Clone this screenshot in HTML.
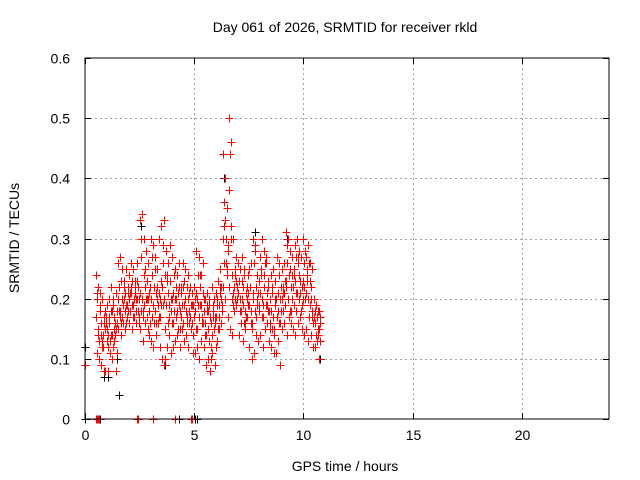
<!DOCTYPE html>
<html><head><meta charset="utf-8"><style>
body{margin:0;background:#fff}
svg{display:block;font-family:"Liberation Sans",sans-serif}
</style></head><body>
<svg id="chart" width="640" height="480" viewBox="0 0 640 480" xmlns="http://www.w3.org/2000/svg">
<rect width="640" height="480" fill="#fff"/>
<text x="345" y="32" font-size="14" text-anchor="middle" fill="#000">Day 061 of 2026, SRMTID for receiver rkld</text>
<text x="345" y="471" font-size="14" text-anchor="middle" fill="#000">GPS time / hours</text>
<text transform="translate(19,238) rotate(-90)" font-size="14" text-anchor="middle" fill="#000">SRMTID / TECUs</text>
<g id="grid"></g>
<g id="ticks"></g>
<g id="points"></g>
<rect x="85" y="58" width="524" height="361" fill="none" stroke="#000" stroke-width="1"/>
</svg>
<script>
const xTicks=[0,5,10,15,20];
const yTicks=[0,0.1,0.2,0.3,0.4,0.5,0.6];
const yTickLabels=["0","0.1","0.2","0.3","0.4","0.5","0.6"];
const times=[0.5,0.6,0.7,0.8,0.9,1.0,1.1,1.2,1.3,1.4,1.5,1.6,1.7,1.8,1.9,2.0,2.1,2.2,2.3,2.4,2.5,2.6,2.7,2.8,2.9,3.0,3.1,3.2,3.3,3.4,3.5,3.6,3.7,3.8,3.9,4.0,4.1,4.2,4.3,4.4,4.5,4.6,4.7,4.8,4.9,5.0,5.1,5.2,5.3,5.4,5.5,5.6,5.7,5.8,5.9,6.0,6.1,6.2,6.3,6.4,6.5,6.6,6.7,6.8,6.9,7.0,7.1,7.2,7.3,7.4,7.5,7.6,7.7,7.8,7.9,8.0,8.1,8.2,8.3,8.4,8.5,8.6,8.7,8.8,8.9,9.0,9.1,9.2,9.3,9.4,9.5,9.6,9.7,9.8,9.9,10.0,10.1,10.2,10.3,10.4,10.5,10.6,10.7];
const redA=[.24,.22,.21,.2,.18,.19,.2,.22,.2,.21,.26,.27,.25,.23,.25,.24,.26,.25,.22,.26,.33,.34,.3,.28,.26,.3,.29,.27,.25,.3,.32,.33,.28,.26,.29,.27,.25,.24,.26,.22,.26,.25,.24,.22,.21,.22,.28,.27,.24,.26,.2,.21,.19,.22,.2,.21,.23,.25,.44,.4,.35,.5,.46,.3,.27,.26,.25,.27,.24,.22,.25,.26,.3,.28,.24,.27,.3,.28,.26,.23,.24,.25,.23,.27,.26,.25,.26,.31,.3,.28,.27,.29,.3,.28,.27,.3,.27,.29,.26,.25,.2,.19,.18];
const redB=[.17,.15,.16,.14,.15,.15,.16,.14,.17,.15,.2,.18,.17,.21,.19,.2,.21,.19,.18,.22,.21,.2,.19,.23,.18,.2,.19,.18,.22,.2,.22,.2,.19,.21,.18,.21,.2,.18,.19,.17,.19,.18,.2,.17,.16,.18,.2,.17,.19,.16,.16,.15,.17,.14,.15,.17,.19,.2,.3,.33,.25,.38,.24,.22,.23,.21,.2,.19,.18,.2,.19,.18,.2,.22,.21,.21,.2,.22,.19,.18,.18,.17,.19,.21,.2,.2,.21,.22,.2,.18,.22,.23,.21,.2,.19,.22,.21,.2,.19,.18,.16,.17,.15];
const redC=[.11,.1,.09,.12,.08,.12,.11,.1,.13,.08,.15,.14,.16,.15,.17,.16,.15,.17,.16,.18,.15,.13,.16,.17,.14,.13,.12,.14,.16,.12,.1,.09,.12,.14,.11,.12,.13,.14,.12,.15,.13,.14,.12,.15,.11,.11,.12,.1,.13,.12,.09,.1,.08,.11,.09,.13,.15,.16,.22,.2,.17,.15,.14,.18,.19,.14,.16,.13,.15,.17,.12,.1,.11,.14,.13,.14,.12,.15,.16,.13,.12,.14,.11,.13,.09,.15,.16,.14,.17,.16,.15,.14,.16,.17,.15,.14,.15,.13,.14,.12,.12,.13,.1];
const redD=[.2,.13,.14,.16,.17,.14,.13,.18,.15,.16,.22,.16,.19,.18,.21,.18,.23,.2,.2,.17,.27,.17,.22,.2,.21,.24,.16,.21,.19,.17,.26,.15,.24,.17,.2,.16,.22,.21,.15,.19,.23,.16,.18,.19,.14,.2,.15,.22,.16,.18,.14,.18,.12,.19,.17,.19,.17,.22,.36,.26,.29,.44,.2,.25,.2,.23,.18,.22,.16,.24,.22,.15,.26,.17,.18,.24,.17,.26,.21,.15,.21,.15,.2,.18,.16,.22,.19,.26,.24,.22,.25,.18,.27,.23,.22,.26,.24,.17,.22,.16,.18,.14,.16];
const redE=[.21,.19,.13,.08,.16,.08,.14,.19,.16,.11,.18,.23,.2,.19,.22,.21,.19,.23,.2,.16,.3,.18,.25,.2,.16,.27,.22,.16,.21,.19,.29,.1,.23,.19,.16,.24,.2,.15,.18,.22,.25,.17,.21,.15,.19,.21,.19,.24,.17,.2,.18,.2,.1,.17,.16,.2,.22,.19,.32,.3,.28,.32,.21,.24,.22,.23,.2,.25,.17,.21,.22,.16,.29,.2,.19,.25,.19,.27,.18,.16,.22,.11,.2,.24,.18,.21,.23,.29,.25,.2,.24,.27,.26,.21,.2,.28,.23,.26,.2,.17,.19,.15,.13];
const redF=[.14,.18,.12,.17,.13,.17,.18,.12,.14,.18,.17,.2,.22,.16,.18,.22,.17,.21,.23,.2,.18,.24,.2,.15,.22,.17,.25,.2,.17,.23,.19,.24,.16,.23,.2,.18,.17,.22,.21,.16,.2,.22,.16,.19,.17,.15,.24,.19,.21,.14,.19,.13,.16,.18,.12,.15,.21,.18,.26,.24,.22,.3,.19,.2,.26,.18,.23,.16,.21,.19,.16,.21,.18,.19,.23,.17,.24,.19,.22,.2,.15,.2,.17,.16,.22,.18,.23,.2,.18,.24,.19,.21,.24,.18,.23,.2,.25,.23,.17,.2,.14,.18,.17];
const blk=[.21,.19,.13,.07,.16,.07,.14,.19,.16,.1,.04,.23,.2,.19,.22,.21,.19,.23,.2,.16,.32,.18,.25,.2,.16,.27,.22,.16,.21,.19,.29,.09,.23,.19,.16,.24,.2,.15,.18,.22,.25,.17,.21,.15,.19,.21,.19,.24,.17,.2,.18,.2,.1,.17,.16,.2,.22,.19,.4,.3,.28,.32,.21,.24,.22,.23,.2,.25,.17,.21,.22,.16,.31,.2,.19,.25,.19,.27,.18,.16,.22,.11,.2,.24,.18,.21,.23,.3,.25,.2,.24,.27,.26,.21,.2,.28,.23,.26,.2,.17,.19,.15,.1];
const zeroRed=[0.5,0.55,0.6,0.65,2.4,2.45,3.1,4.1,4.85,4.9];
const zeroBlk=[0.7,4.3,5.05,5.15,0.0];
const startRed=[[0,0.09]];
const startBlk=[[0,0.12]];
const X0=85,X1=609,Y0=419,Y1=58,XMAX=24,YMAX=0.6;
function xs(t){return X0+(t/XMAX)*(X1-X0);}
function ys(v){return Y0-(v/YMAX)*(Y0-Y1);}
const NS="http://www.w3.org/2000/svg";
const grid=document.getElementById('grid'),ticks=document.getElementById('ticks'),pts=document.getElementById('points');
function ln(p,x1,y1,x2,y2,st,dash){const l=document.createElementNS(NS,'line');l.setAttribute('x1',x1);l.setAttribute('y1',y1);l.setAttribute('x2',x2);l.setAttribute('y2',y2);l.setAttribute('stroke',st);l.setAttribute('stroke-width',1);if(dash)l.setAttribute('stroke-dasharray',dash);p.appendChild(l);return l;}
function tx(p,x,y,s,anchor){const t=document.createElementNS(NS,'text');t.setAttribute('x',x);t.setAttribute('y',y);t.setAttribute('font-size',14);t.setAttribute('text-anchor',anchor);t.textContent=s;p.appendChild(t);return t;}
xTicks.forEach(v=>{const x=Math.round(xs(v))+0.5;
 if(v>0){const g=ln(grid,x,Y1,x,Y0,'#a0a0a0','2,3');
 
 }
 const a=ln(ticks,x,Y0,x,Y0-6,'#000');
 
 
 const b=ln(ticks,x,Y1,x,Y1+6,'#000');
 
 
 const t=tx(ticks,x,440,String(v),'middle');
 
 });
yTicks.forEach((v,i)=>{const y=Math.round(ys(v))+0.5;
 if(v>0&&v<0.6){const g=ln(grid,X0,y,X1,y,'#a0a0a0','2,3');
 
 }
 const a=ln(ticks,X0,y,X0+6,y,'#000');
 
 
 const b=ln(ticks,X1,y,X1-6,y,'#000');
 
 
 const t=tx(ticks,70,y+5,yTickLabels[i],'end');
 
 });
function plus(t,v,c,name){const x=Math.round(xs(t))+0.5,y=Math.round(ys(v))+0.5;
 const p=document.createElementNS(NS,'path');
 p.setAttribute('d',`M${x-4},${y}H${x+4}M${x},${y-4}V${y+4}`);
 p.setAttribute('stroke',c);p.setAttribute('stroke-width',1);
 
 
 pts.appendChild(p);}
times.forEach((t,i)=>plus(t+0.068,blk[i],'#000','black-point'));
zeroBlk.forEach(t=>plus(t,0,'#000','black-zero-point'));
startBlk.forEach(d=>plus(d[0],d[1],'#000','black-point'));
[redA,redB,redC,redD,redE,redF].forEach((arr,k)=>times.forEach((t,i)=>plus(t+k*0.017,arr[i],'#f00','red-point')));
zeroRed.forEach(t=>plus(t,0,'#f00','red-zero-point'));
startRed.forEach(d=>plus(d[0],d[1],'#f00','red-point'));
</script>
</body></html>
